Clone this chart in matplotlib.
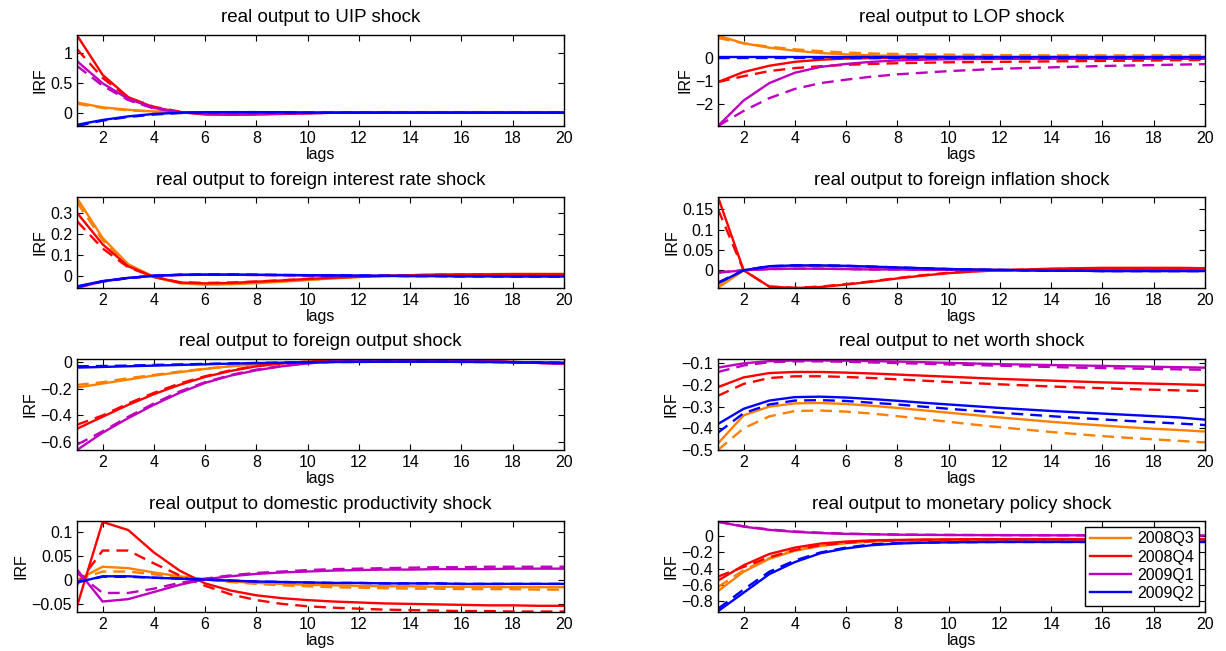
import matplotlib
matplotlib.use("Agg")
import matplotlib.pyplot as plt
import numpy as np

plt.rcParams['font.family'] = ['Liberation Sans', 'DejaVu Sans']

lags = np.arange(1, 21)
periods = ['2008Q3', '2008Q4', '2009Q1', '2009Q2']
colors = ['#ff8000', '#ff0000', '#bf00bf', '#0000ff']

# rows: 2008Q3, 2008Q4, 2009Q1, 2009Q2
uip_solid = [
    [0.17, 0.09, 0.05, 0.02, 0.005, -0.005, -0.01, -0.01, -0.005, 0, 0, 0, 0, 0, 0, 0, 0, 0, 0, 0],
    [1.29, 0.63, 0.26, 0.09, 0.01, -0.03, -0.035, -0.03, -0.02, -0.01, 0, 0.005, 0.01, 0.01, 0.01, 0.01, 0.01, 0.01, 0.01, 0.01],
    [0.86, 0.49, 0.23, 0.08, 0.01, -0.015, -0.02, -0.02, -0.01, -0.005, 0, 0.005, 0.005, 0.005, 0.005, 0.005, 0.005, 0.005, 0.005, 0.005],
    [-0.2, -0.12, -0.06, -0.02, 0, 0.01, 0.01, 0.01, 0.01, 0.005, 0, 0, 0, 0, 0, 0, 0, 0, 0, 0],
]
uip_dashed = [
    [0.15, 0.08, 0.04, 0.02, 0.005, -0.005, -0.01, -0.01, -0.005, 0, 0, 0, 0, 0, 0, 0, 0, 0, 0, 0],
    [1.06, 0.58, 0.25, 0.1, 0.02, -0.02, -0.03, -0.025, -0.015, -0.005, 0, 0.005, 0.005, 0.005, 0.005, 0.005, 0.005, 0.005, 0.005, 0.005],
    [0.78, 0.45, 0.21, 0.07, 0.01, -0.01, -0.015, -0.015, -0.01, -0.005, 0, 0, 0, 0, 0, 0, 0, 0, 0, 0],
    [-0.22, -0.13, -0.07, -0.03, -0.005, 0.005, 0.01, 0.01, 0.005, 0, 0, 0, 0, 0, 0, 0, 0, 0, 0, 0],
]

lop_solid = [
    [0.95, 0.62, 0.43, 0.3, 0.2, 0.14, 0.1, 0.08, 0.06, 0.05, 0.04, 0.035, 0.03, 0.03, 0.03, 0.03, 0.03, 0.03, 0.03, 0.03],
    [-1.05, -0.62, -0.35, -0.18, -0.09, -0.04, -0.02, -0.01, 0, 0, 0, 0, 0, 0, 0, 0, 0, 0, 0, 0],
    [-2.95, -1.85, -1.1, -0.65, -0.4, -0.27, -0.18, -0.12, -0.09, -0.07, -0.06, -0.05, -0.05, -0.05, -0.05, -0.05, -0.05, -0.05, -0.05, -0.05],
    [0.02, 0.02, 0.02, 0.02, 0.02, 0.02, 0.02, 0.02, 0.02, 0.02, 0.02, 0.02, 0.02, 0.02, 0.02, 0.02, 0.02, 0.02, 0.02, 0.02],
]
lop_dashed = [
    [0.85, 0.62, 0.47, 0.36, 0.28, 0.22, 0.18, 0.16, 0.14, 0.13, 0.12, 0.11, 0.11, 0.1, 0.1, 0.1, 0.1, 0.1, 0.1, 0.1],
    [-1.05, -0.8, -0.58, -0.45, -0.37, -0.31, -0.27, -0.24, -0.22, -0.2, -0.19, -0.18, -0.17, -0.16, -0.15, -0.14, -0.13, -0.12, -0.11, -0.1],
    [-2.95, -2.3, -1.75, -1.35, -1.1, -0.95, -0.82, -0.72, -0.65, -0.58, -0.53, -0.48, -0.45, -0.42, -0.39, -0.36, -0.34, -0.32, -0.3, -0.28],
    [0.0, 0.0, 0.0, 0.0, 0.0, 0.0, 0.0, 0.0, 0.0, 0.0, 0.0, 0.0, 0.0, 0.0, 0.0, 0.0, 0.0, 0.0, 0.0, 0.0],
]

fir_solid = [
    [0.37, 0.18, 0.055, -0.005, -0.035, -0.042, -0.04, -0.035, -0.028, -0.02, -0.012, -0.006, -0.002, 0.002, 0.005, 0.007, 0.008, 0.009, 0.009, 0.009],
    [0.3, 0.15, 0.045, -0.005, -0.032, -0.036, -0.034, -0.028, -0.022, -0.015, -0.009, -0.004, 0, 0.003, 0.005, 0.006, 0.007, 0.008, 0.008, 0.008],
    [-0.057, -0.027, -0.01, 0.0, 0.004, 0.005, 0.005, 0.004, 0.003, 0.002, 0.001, 0, 0, -0.001, -0.001, -0.002, -0.002, -0.002, -0.002, -0.002],
    [-0.05, -0.025, -0.01, 0.0, 0.005, 0.006, 0.006, 0.005, 0.004, 0.003, 0.002, 0.001, 0, -0.001, -0.001, -0.002, -0.002, -0.003, -0.003, -0.003],
]
fir_dashed = [
    [0.35, 0.17, 0.05, -0.006, -0.034, -0.04, -0.038, -0.033, -0.026, -0.019, -0.011, -0.005, -0.001, 0.002, 0.005, 0.006, 0.007, 0.008, 0.008, 0.008],
    [0.26, 0.13, 0.04, -0.005, -0.03, -0.034, -0.032, -0.027, -0.021, -0.014, -0.008, -0.004, 0, 0.003, 0.005, 0.006, 0.007, 0.007, 0.007, 0.007],
    [-0.055, -0.026, -0.01, 0.0, 0.004, 0.005, 0.005, 0.004, 0.003, 0.002, 0.001, 0, 0, -0.001, -0.001, -0.002, -0.002, -0.002, -0.002, -0.002],
    [-0.052, -0.027, -0.011, 0.0, 0.005, 0.006, 0.006, 0.005, 0.004, 0.003, 0.002, 0.001, 0, -0.001, -0.001, -0.002, -0.002, -0.003, -0.003, -0.003],
]

finf_solid = [
    [-0.043, 0.0, 0.009, 0.011, 0.011, 0.01, 0.008, 0.006, 0.004, 0.003, 0.002, 0.001, 0, 0, -0.001, -0.001, -0.001, -0.001, -0.001, -0.001],
    [0.18, 0.0, -0.04, -0.0435, -0.041, -0.035, -0.028, -0.02, -0.013, -0.007, -0.003, 0, 0.002, 0.004, 0.005, 0.006, 0.006, 0.006, 0.006, 0.005],
    [-0.006, 0.0, 0.003, 0.004, 0.004, 0.003, 0.002, 0.002, 0.001, 0.001, 0, 0, 0, 0, 0, 0, 0, 0, 0, 0],
    [-0.032, 0.0, 0.01, 0.012, 0.012, 0.011, 0.009, 0.007, 0.005, 0.003, 0.002, 0.001, 0, -0.001, -0.001, -0.002, -0.002, -0.002, -0.002, -0.002],
]
finf_dashed = [
    [-0.04, 0.0, 0.009, 0.011, 0.011, 0.01, 0.008, 0.006, 0.004, 0.003, 0.002, 0.001, 0, 0, -0.001, -0.001, -0.001, -0.001, -0.001, -0.001],
    [0.15, 0.0, -0.04, -0.043, -0.04, -0.034, -0.027, -0.019, -0.012, -0.006, -0.002, 0, 0.002, 0.003, 0.004, 0.005, 0.005, 0.005, 0.005, 0.005],
    [-0.005, 0.0, 0.003, 0.004, 0.004, 0.003, 0.002, 0.002, 0.001, 0.001, 0, 0, 0, 0, 0, 0, 0, 0, 0, 0],
    [-0.03, 0.0, 0.01, 0.012, 0.012, 0.011, 0.009, 0.007, 0.005, 0.003, 0.002, 0.001, 0, -0.001, -0.001, -0.002, -0.002, -0.002, -0.002, -0.002],
]

fout_solid = [
    [-0.19, -0.16, -0.13, -0.1, -0.075, -0.05, -0.03, -0.015, -0.005, 0.0, 0.004, 0.006, 0.007, 0.007, 0.006, 0.005, 0.004, 0.002, 0.0, -0.002],
    [-0.5, -0.41, -0.32, -0.24, -0.17, -0.11, -0.065, -0.03, -0.008, 0.005, 0.012, 0.015, 0.016, 0.015, 0.013, 0.01, 0.006, 0.001, -0.004, -0.01],
    [-0.66, -0.53, -0.42, -0.32, -0.23, -0.155, -0.1, -0.06, -0.03, -0.008, 0.006, 0.014, 0.018, 0.019, 0.017, 0.013, 0.008, 0.002, -0.005, -0.012],
    [-0.04, -0.035, -0.03, -0.025, -0.02, -0.015, -0.01, -0.006, -0.003, 0, 0.002, 0.003, 0.004, 0.004, 0.004, 0.003, 0.002, 0.0, -0.002, -0.004],
]
fout_dashed = [
    [-0.17, -0.15, -0.12, -0.095, -0.07, -0.048, -0.028, -0.013, -0.004, 0.001, 0.004, 0.006, 0.007, 0.007, 0.006, 0.005, 0.004, 0.002, 0.0, -0.002],
    [-0.47, -0.4, -0.31, -0.23, -0.16, -0.105, -0.06, -0.028, -0.007, 0.005, 0.012, 0.015, 0.016, 0.015, 0.013, 0.01, 0.006, 0.001, -0.004, -0.01],
    [-0.62, -0.52, -0.41, -0.31, -0.22, -0.15, -0.095, -0.055, -0.027, -0.007, 0.006, 0.014, 0.02, 0.02, 0.018, 0.014, 0.009, 0.003, -0.004, -0.011],
    [-0.03, -0.028, -0.025, -0.02, -0.016, -0.012, -0.008, -0.005, -0.002, 0, 0.002, 0.003, 0.004, 0.004, 0.004, 0.003, 0.002, 0.0, -0.002, -0.004],
]

nw_solid = [
    [-0.47, -0.34, -0.3, -0.285, -0.283, -0.288, -0.296, -0.306, -0.317, -0.328, -0.339, -0.35, -0.36, -0.37, -0.379, -0.387, -0.395, -0.402, -0.408, -0.415],
    [-0.21, -0.165, -0.145, -0.14, -0.14, -0.143, -0.147, -0.152, -0.157, -0.162, -0.167, -0.172, -0.176, -0.18, -0.184, -0.188, -0.191, -0.194, -0.197, -0.2],
    [-0.12, -0.1, -0.09, -0.087, -0.087, -0.088, -0.09, -0.092, -0.095, -0.098, -0.101, -0.104, -0.106, -0.108, -0.11, -0.112, -0.114, -0.116, -0.118, -0.12],
    [-0.38, -0.31, -0.272, -0.256, -0.254, -0.258, -0.265, -0.273, -0.282, -0.29, -0.298, -0.306, -0.313, -0.32, -0.326, -0.332, -0.338, -0.344, -0.35, -0.36],
]
nw_dashed = [
    [-0.5, -0.4, -0.345, -0.32, -0.318, -0.323, -0.332, -0.344, -0.357, -0.37, -0.383, -0.395, -0.406, -0.417, -0.427, -0.436, -0.444, -0.451, -0.458, -0.465],
    [-0.25, -0.195, -0.168, -0.16, -0.16, -0.163, -0.168, -0.174, -0.18, -0.186, -0.192, -0.197, -0.202, -0.207, -0.211, -0.215, -0.219, -0.222, -0.225, -0.228],
    [-0.14, -0.11, -0.095, -0.091, -0.091, -0.093, -0.096, -0.099, -0.102, -0.105, -0.108, -0.111, -0.114, -0.117, -0.12, -0.122, -0.124, -0.126, -0.128, -0.13],
    [-0.42, -0.33, -0.29, -0.272, -0.27, -0.274, -0.282, -0.29, -0.3, -0.31, -0.319, -0.328, -0.336, -0.344, -0.352, -0.359, -0.366, -0.372, -0.378, -0.385],
]

dprod_solid = [
    [0.0, 0.028, 0.025, 0.016, 0.008, 0.002, -0.003, -0.006, -0.008, -0.01, -0.011, -0.012, -0.013, -0.013, -0.014, -0.014, -0.014, -0.015, -0.015, -0.015],
    [-0.055, 0.122, 0.105, 0.058, 0.02, -0.007, -0.022, -0.032, -0.038, -0.042, -0.045, -0.047, -0.049, -0.05, -0.051, -0.052, -0.053, -0.053, -0.054, -0.054],
    [0.022, -0.045, -0.04, -0.025, -0.01, 0.002, 0.008, 0.013, 0.016, 0.018, 0.02, 0.021, 0.022, 0.022, 0.023, 0.023, 0.023, 0.024, 0.024, 0.024],
    [-0.005, 0.008, 0.008, 0.005, 0.003, 0.001, -0.001, -0.003, -0.004, -0.005, -0.006, -0.006, -0.007, -0.007, -0.007, -0.008, -0.008, -0.008, -0.008, -0.008],
]
dprod_dashed = [
    [0.0, 0.018, 0.018, 0.012, 0.006, 0.001, -0.004, -0.008, -0.011, -0.013, -0.015, -0.016, -0.017, -0.018, -0.018, -0.019, -0.019, -0.019, -0.02, -0.02],
    [-0.01, 0.062, 0.062, 0.035, 0.01, -0.012, -0.03, -0.042, -0.05, -0.055, -0.058, -0.06, -0.062, -0.063, -0.064, -0.065, -0.065, -0.066, -0.066, -0.066],
    [0.015, -0.027, -0.027, -0.018, -0.006, 0.003, 0.01, 0.015, 0.018, 0.021, 0.023, 0.024, 0.025, 0.026, 0.027, 0.027, 0.028, 0.028, 0.028, 0.028],
    [-0.004, 0.007, 0.007, 0.005, 0.003, 0.001, -0.001, -0.003, -0.004, -0.005, -0.006, -0.006, -0.007, -0.007, -0.007, -0.008, -0.008, -0.008, -0.008, -0.008],
]

mp_solid = [
    [-0.68, -0.44, -0.28, -0.18, -0.12, -0.085, -0.065, -0.055, -0.05, -0.048, -0.046, -0.045, -0.045, -0.045, -0.045, -0.045, -0.045, -0.045, -0.045, -0.045],
    [-0.55, -0.36, -0.22, -0.14, -0.09, -0.065, -0.05, -0.045, -0.04, -0.038, -0.036, -0.035, -0.035, -0.035, -0.035, -0.035, -0.035, -0.035, -0.035, -0.035],
    [0.18, 0.12, 0.08, 0.055, 0.04, 0.03, 0.025, 0.02, 0.018, 0.016, 0.015, 0.014, 0.013, 0.012, 0.012, 0.011, 0.011, 0.01, 0.01, 0.01],
    [-0.93, -0.7, -0.47, -0.32, -0.21, -0.15, -0.11, -0.09, -0.08, -0.075, -0.072, -0.07, -0.07, -0.07, -0.07, -0.07, -0.07, -0.07, -0.07, -0.07],
]
mp_dashed = [
    [-0.63, -0.42, -0.27, -0.17, -0.115, -0.08, -0.062, -0.052, -0.048, -0.046, -0.045, -0.045, -0.045, -0.045, -0.045, -0.045, -0.045, -0.045, -0.045, -0.045],
    [-0.5, -0.38, -0.26, -0.17, -0.11, -0.08, -0.06, -0.05, -0.045, -0.042, -0.04, -0.04, -0.04, -0.04, -0.04, -0.04, -0.04, -0.04, -0.04, -0.04],
    [0.18, 0.125, 0.085, 0.06, 0.045, 0.033, 0.027, 0.022, 0.019, 0.017, 0.016, 0.015, 0.014, 0.013, 0.012, 0.012, 0.011, 0.011, 0.01, 0.01],
    [-0.9, -0.66, -0.44, -0.3, -0.2, -0.14, -0.1, -0.085, -0.078, -0.074, -0.072, -0.07, -0.07, -0.07, -0.07, -0.07, -0.07, -0.07, -0.07, -0.07],
]

titles = ['real output to UIP shock', 'real output to LOP shock',
          'real output to foreign interest rate shock', 'real output to foreign inflation shock',
          'real output to foreign output shock', 'real output to net worth shock',
          'real output to domestic productivity shock', 'real output to monetary policy shock']
solids = [uip_solid, lop_solid, fir_solid, finf_solid, fout_solid, nw_solid, dprod_solid, mp_solid]
dashes = [uip_dashed, lop_dashed, fir_dashed, finf_dashed, fout_dashed, nw_dashed, dprod_dashed, mp_dashed]
ylims = [(-0.22, 1.295), (-2.95, 0.98), (-0.058, 0.375), (-0.0435, 0.18),
         (-0.66, 0.025), (-0.5, -0.08), (-0.067, 0.124), (-0.94, 0.19)]
yticks = [[0, 0.5, 1], [-2, -1, 0], [0, 0.1, 0.2, 0.3], [0, 0.05, 0.1, 0.15],
          [-0.6, -0.4, -0.2, 0], [-0.5, -0.4, -0.3, -0.2, -0.1], [-0.05, 0, 0.05, 0.1],
          [-0.8, -0.6, -0.4, -0.2, 0]]

fig = plt.figure(figsize=(12.26, 6.51), dpi=100)
lefts = [77 / 1226, 718 / 1226]
width = 487 / 1226
bottoms = [0.8065, 0.5576, 0.3088, 0.0599]
height = 91 / 651

for i in range(8):
    ax = fig.add_axes([lefts[i % 2], bottoms[i // 2], width, height])
    for k in range(4):
        ax.plot(lags, solids[i][k], color=colors[k], lw=1.7, label=periods[k])
        ax.plot(lags, dashes[i][k], color=colors[k], lw=1.7, ls=(0, (5, 3)))
    ax.set_xlim(1, 20)
    ax.set_ylim(*ylims[i])
    ax.set_xticks(range(2, 21, 2))
    ax.set_yticks(yticks[i])
    ax.set_yticklabels([('%g' % t).replace('-', '\u2212') for t in yticks[i]])
    ax.tick_params(direction='in', top=True, right=True, length=4, labelsize=11.5, width=0.8)
    for s in ax.spines.values():
        s.set_linewidth(1.0)
    ax.set_title(titles[i], fontsize=13.5, pad=9)
    ax.set_xlabel('lags', fontsize=11.5, labelpad=1)
    ax.set_ylabel('IRF', fontsize=11.5, labelpad=2)
    if i == 7:
        leg = ax.legend(loc='upper right', fontsize=11.5, fancybox=False, edgecolor='black',
                        framealpha=1, handlelength=2.6, borderpad=0.3, labelspacing=0.2,
                        handletextpad=0.4, borderaxespad=0.35)
        leg.get_frame().set_linewidth(1.0)

fig.savefig('out.png', dpi=100)
